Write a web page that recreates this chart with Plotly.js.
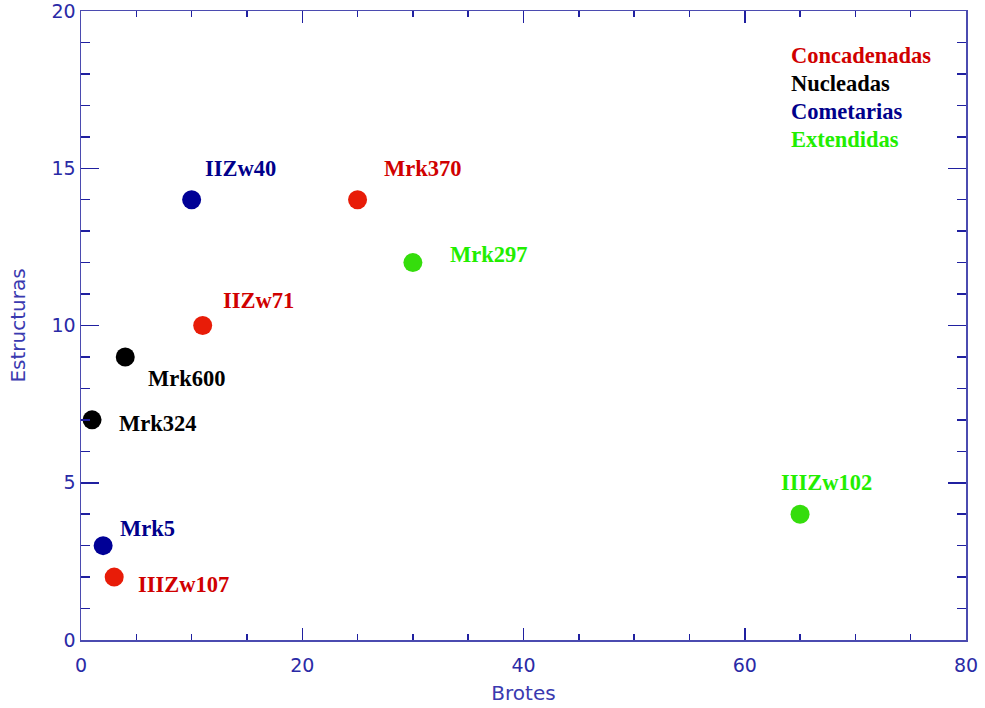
<!DOCTYPE html>
<html><head><meta charset="utf-8">
<script src="https://cdn.plot.ly/plotly-3.0.1.min.js"></script>
<style>body{margin:0;background:#fff}#chart{width:985px;height:708px}</style>
</head><body><div id="chart"></div>
<script>
// Data
const names   = ["IIZw40","Mrk370","Mrk297","IIZw71","Mrk600","Mrk324","Mrk5","IIIZw107","IIIZw102"];
const brotes  = [10, 25, 30, 11, 4, 1, 2, 3, 65];
const estruct = [14, 14, 12, 10, 9, 7, 3, 2, 4];
const groups  = ["Cometarias","Concadenadas","Extendidas","Concadenadas","Nucleadas","Nucleadas","Cometarias","Concadenadas","Extendidas"];
const labelX  = [14.4, 30.9, 36.9, 16.0, 9.6, 7.0, 6.0, 9.3, 67.4];
const labelY  = [15.0, 15.0, 12.25, 10.78, 8.33, 6.87, 3.53, 1.78, 5.02];
const legendNames = ["Concadenadas","Nucleadas","Cometarias","Extendidas"];
const xTicks = [0, 20, 40, 60, 80];
const yTicks = [0, 5, 10, 15, 20];

const markerColor = {Concadenadas:"#e81c08", Nucleadas:"#000000", Cometarias:"#000096", Extendidas:"#35dd0c"};
const textColor   = {Concadenadas:"#d00000", Nucleadas:"#000000", Cometarias:"#00008b", Extendidas:"#22ee00"};

const trace = {
  x: brotes, y: estruct, mode: "markers", type: "scatter",
  marker: {size: 19, color: groups.map(g => markerColor[g])},
  hoverinfo: "text", text: names, showlegend: false, cliponaxis: false
};

const annFont = (c) => ({family: "Liberation Serif, Times New Roman, serif", size: 22.5, color: c});
const annotations = names.map((n, i) => ({
  x: labelX[i], y: labelY[i], xref: "x", yref: "y", text: "<b>" + n + "</b>",
  showarrow: false, xanchor: "center", yanchor: "middle", font: annFont(textColor[groups[i]])
}));
const legendY = [0.93, 0.885, 0.84, 0.796];
legendNames.forEach((n, i) => annotations.push({
  x: 0.800, y: legendY[i], xref: "paper", yref: "paper", text: "<b>" + n + "</b>",
  showarrow: false, xanchor: "left", yanchor: "middle", font: annFont(textColor[n])
}));

const axisCol = "#4b4bb0";
const tickFont = {family: "DejaVu Sans, sans-serif", size: 19, color: "#2a2aa6"};
const titleFont = {family: "DejaVu Sans, sans-serif", size: 20, color: "#3a3ab0"};
const layout = {
  width: 985, height: 708,
  margin: {l: 81, r: 19, t: 11, b: 68},
  paper_bgcolor: "#fff", plot_bgcolor: "#fff",
  xaxis: {
    range: [0, 80], tickmode: "array", tickvals: xTicks, ticktext: xTicks.map(String),
    ticks: "inside", ticklen: 12, tickwidth: 1.5, tickcolor: "#2020a0", ticklabelstandoff: 8,
    ticklabeloverflow: "allow",
    showline: true, linecolor: axisCol, linewidth: 1.5, mirror: "allticks",
    showgrid: false, zeroline: false, tickfont: tickFont,
    minor: {dtick: 5, tick0: 0, ticks: "inside", ticklen: 6, tickwidth: 1.5, tickcolor: "#2020a0", showgrid: false},
    title: {text: "Brotes", font: titleFont, standoff: 10}
  },
  yaxis: {
    range: [0, 20.0001], tickmode: "array", tickvals: yTicks, ticktext: yTicks.map(String),
    ticks: "inside", ticklen: 18, tickwidth: 1.5, tickcolor: "#2020a0",
    ticklabeloverflow: "allow",
    showline: true, linecolor: axisCol, linewidth: 1.5, mirror: "allticks",
    showgrid: false, zeroline: false, tickfont: tickFont,
    minor: {dtick: 1, tick0: 0, ticks: "inside", ticklen: 9, tickwidth: 1.5, tickcolor: "#2020a0", showgrid: false},
    title: {text: "Estructuras", font: titleFont, standoff: 20}
  },
  annotations: annotations,
  showlegend: false
};
Plotly.newPlot("chart", [trace], layout, {displayModeBar: false, staticPlot: true});
</script></body></html>
